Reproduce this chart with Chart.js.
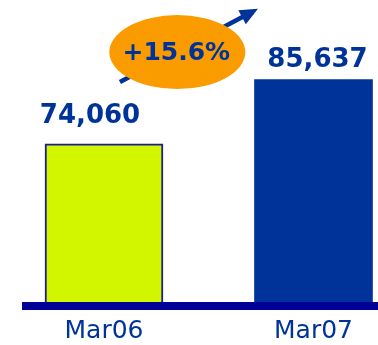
<!DOCTYPE html>
<html lang="en">
<head>
  <meta charset="UTF-8">
  <title>Mar06 vs Mar07</title>
  <script src="https://cdn.jsdelivr.net/npm/chart.js"></script>
  <style>
    html, body { margin: 0; padding: 0; background: #fff; }
    #chart-container { width: 378px; height: 345px; }
    #chart { width: 100% !important; height: 100% !important; display: block; }
  </style>
</head>
<body>
  <div id="chart-container">
    <canvas id="chart"></canvas>
  </div>

  <script>
    // Data
    const categories = ['Mar06', 'Mar07'];
    const values     = [74060, 85637];
    const valueText  = ['74,060', '85,637'];
    const growthText = '+15.6%';

    const NAVY = '#003399';
    const barColors  = ['#d2f500', '#003399'];
    const barBorders = ['#1c1c8e', '#003399'];

    // label nudges per bar (dx, gap above bar top)
    const labelDx  = [-14, 4];
    const labelGap = [21, 13];

    const valueLabels = {
      id: 'valueLabels',
      afterDatasetsDraw(chart) {
        const c = chart.ctx;
        const meta = chart.getDatasetMeta(0);
        c.save();
        c.font = 'bold 26px "DejaVu Sans"';
        c.fillStyle = NAVY;
        c.textAlign = 'center';
        c.textBaseline = 'alphabetic';
        meta.data.forEach((bar, i) => {
          c.fillText(valueText[i], bar.x + labelDx[i], bar.y - labelGap[i]);
        });
        c.restore();
      }
    };

    // thick baseline under the bars
    const baseLine = {
      id: 'baseLine',
      afterDatasetsDraw(chart) {
        const { ctx: c, chartArea: a } = chart;
        c.save();
        c.fillStyle = '#000096';
        c.fillRect(a.left, a.bottom, a.right - a.left, 8);
        c.restore();
      }
    };

    // growth arrow + orange bubble
    const growthBadge = {
      id: 'growthBadge',
      beforeDatasetsDraw(chart) {
        const c = chart.ctx;
        const xs = chart.scales.x, ys = chart.scales.y;
        const x1 = xs.getPixelForValue(0.076), y1 = ys.getPixelForValue(85200);
        const x2 = xs.getPixelForValue(0.735), y2 = ys.getPixelForValue(98400);
        const ang = Math.atan2(y2 - y1, x2 - x1);
        const head = 18;
        c.save();
        c.strokeStyle = NAVY;
        c.fillStyle = NAVY;
        c.lineWidth = 4.5;
        c.beginPath();
        c.moveTo(x1, y1);
        c.lineTo(x2 - head * 0.8 * Math.cos(ang), y2 - head * 0.8 * Math.sin(ang));
        c.stroke();
        c.beginPath();
        c.moveTo(x2, y2);
        c.lineTo(x2 - head * Math.cos(ang) + 8 * Math.sin(ang), y2 - head * Math.sin(ang) - 8 * Math.cos(ang));
        c.lineTo(x2 - head * Math.cos(ang) - 8 * Math.sin(ang), y2 - head * Math.sin(ang) + 8 * Math.cos(ang));
        c.closePath();
        c.fill();

        const cx = xs.getPixelForValue(0.35), cy = ys.getPixelForValue(90600);
        c.fillStyle = '#fa9b00';
        c.beginPath();
        c.ellipse(cx, cy, 68, 37, 0, 0, Math.PI * 2);
        c.fill();

        c.font = 'bold 25px "DejaVu Sans"';
        c.fillStyle = NAVY;
        c.textAlign = 'center';
        c.textBaseline = 'middle';
        c.fillText(growthText, cx - 1, cy + 1);
        c.restore();
      }
    };

    const ctx = document.getElementById('chart').getContext('2d');
    new Chart(ctx, {
      type: 'bar',
      data: {
        datasets: [{
          data: values.map((v, i) => ({ x: i, y: v })),
          backgroundColor: barColors,
          borderColor: barBorders,
          borderWidth: [2, 0],
          borderSkipped: 'bottom',
          barThickness: 118
        }]
      },
      options: {
        responsive: true,
        maintainAspectRatio: false,
        animation: false,
        layout: { padding: { left: 22, top: 0, right: 0, bottom: 0 } },
        plugins: { legend: { display: false }, tooltip: { enabled: false } },
        scales: {
          x: {
            type: 'linear',
            offset: false,
            min: -0.3914,
            max: 1.3079,
            grid: { display: false, drawTicks: false, offset: false },
            border: { display: false },
            afterBuildTicks: s => { s.ticks = categories.map((_, i) => ({ value: i })); },
            afterFit: s => { s.height = 43; },
            ticks: {
              padding: 14,
              color: NAVY,
              font: { family: '"DejaVu Sans"', size: 25 },
              callback: v => categories[v]
            }
          },
          y: {
            display: false,
            min: 45500,
            max: 100000
          }
        }
      },
      plugins: [growthBadge, valueLabels, baseLine]
    });
  </script>
</body>
</html>
